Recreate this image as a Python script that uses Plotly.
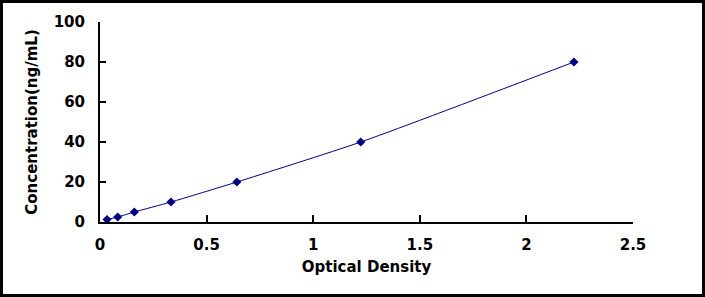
import plotly.graph_objects as go

optical_density = [0.033, 0.083, 0.161, 0.333, 0.642, 1.223, 2.223]
concentration = [1.25, 2.5, 5, 10, 20, 40, 80]
x_ticks = [0, 0.5, 1, 1.5, 2, 2.5]
x_tick_labels = ["0", "0.5", "1", "1.5", "2", "2.5"]
y_ticks = [0, 20, 40, 60, 80, 100]
y_tick_labels = ["0", "20", "40", "60", "80", "100"]

W, H = 705, 297
L, R, T, B = 100, 72, 22, 75
pw, ph = W - L - R, H - T - B

navy = "#000080"
font_family = "DejaVu Sans, Arial, sans-serif"

fig = go.Figure()
fig.add_trace(go.Scatter(
    x=optical_density, y=concentration,
    mode="lines+markers",
    line=dict(color=navy, width=1, shape="spline", smoothing=0.6),
    marker=dict(symbol="diamond", size=7, color=navy),
    showlegend=False,
))

fig.update_layout(
    width=W, height=H,
    margin=dict(l=L, r=R, t=T, b=B),
    paper_bgcolor="white", plot_bgcolor="white",
    font=dict(family=font_family, color="black"),
    xaxis=dict(
        range=[0, 2.5], tickvals=x_ticks,
        ticktext=["<b>%s</b>" % t for t in x_tick_labels],
        showgrid=False, zeroline=False,
        showline=True, linecolor="black", linewidth=2,
        ticks="inside", ticklen=7, tickwidth=2, tickcolor="black",
        tickfont=dict(size=15, family=font_family),
        ticklabelstandoff=8,
        title=dict(text="<b>Optical Density</b>", font=dict(size=15), standoff=8),
    ),
    yaxis=dict(
        range=[0, 100], tickvals=y_ticks,
        ticktext=["<b>%s</b>" % t for t in y_tick_labels],
        showgrid=False, zeroline=False,
        showline=True, linecolor="black", linewidth=2,
        ticks="inside", ticklen=6, tickwidth=2, tickcolor="black",
        tickfont=dict(size=15, family=font_family),
        ticklabelstandoff=10,
        title=dict(text="<b>Concentration(ng/mL)</b>", font=dict(size=15), standoff=12),
    ),
)

# outer frame around the whole picture
fig.add_shape(
    type="rect", xref="paper", yref="paper",
    x0=(1.5 - L) / pw, x1=(W - 1.5 - L) / pw,
    y0=-(H - 1.5 - T - ph) / ph, y1=1 + (T - 1.5) / ph,
    line=dict(color="black", width=3), fillcolor="rgba(0,0,0,0)",
    layer="above",
)

fig.write_html("out.html")
